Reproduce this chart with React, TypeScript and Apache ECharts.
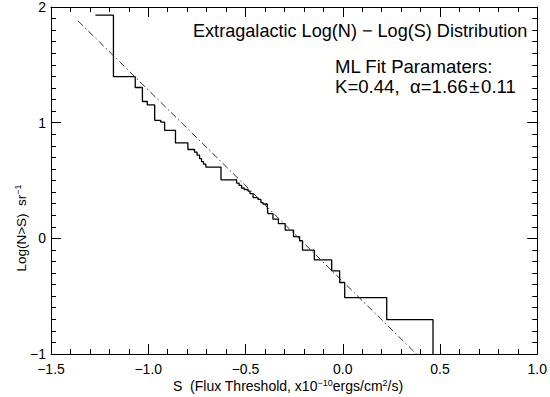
import React, { useEffect, useRef } from "react";
import * as echarts from "echarts";

// Step-function log N - log S (drop positions and levels)
const stepS = [-1.272, -1.179, -1.067, -1.03, -1.005, -0.967, -0.936, -0.916, -0.86, -0.796, -0.762, -0.749, -0.736, -0.726, -0.716, -0.704, -0.626, -0.546, -0.533, -0.52, -0.507, -0.487, -0.477, -0.461, -0.436, -0.421, -0.41, -0.388, -0.385, -0.359, -0.331, -0.296, -0.253, -0.222, -0.207, -0.146, -0.057, -0.016, 0.01, 0.226, 0.464];
const stepLogN = [1.929, 1.398, 1.304, 1.183, 1.153, 1.02, 1.005, 0.934, 0.825, 0.768, 0.745, 0.719, 0.689, 0.663, 0.641, 0.616, 0.506, 0.478, 0.457, 0.435, 0.422, 0.409, 0.386, 0.352, 0.336, 0.309, 0.297, 0.272, 0.214, 0.166, 0.128, 0.071, 0.014, -0.021, -0.102, -0.187, -0.281, -0.382, -0.513, -0.703, -1.0];

// ML fit line endpoints
const fitS = [-1.361, 0.379];
const fitLogN = [1.88, -1.0];

const xTicks = { min: -1.5, max: 1.0, interval: 0.5 };
const yTicks = { min: -1, max: 2, interval: 1 };

const titleText = "Extragalactic Log(N) \u2212 Log(S) Distribution";
const fitLine1 = "ML Fit Paramaters:";
const fitLine2 = "K=0.44,  \u03b1=1.66\u200a\u00b1\u200a0.11";

const FONT = "'Liberation Sans', Arial, Helvetica, sans-serif";

const fmt = (v: number, d: number) => {
  const s = Math.abs(v).toFixed(d);
  return v < 0 ? "\u2212" + s : s;
};

export default function App() {
  const ref = useRef<HTMLDivElement>(null);
  useEffect(() => {
    if (!ref.current) return;
    const chart = echarts.init(ref.current, null, { renderer: "svg" });
    const axisCommon = {
      axisLine: { show: true, onZero: false, lineStyle: { color: "#000", width: 1 } },
      axisTick: { show: true, inside: true, length: 10, lineStyle: { color: "#000", width: 1 } },
      splitLine: { show: false },
    };
    const xCommon = {
      type: "value",
      min: xTicks.min,
      max: xTicks.max,
      interval: xTicks.interval,
      ...axisCommon,
      minorTick: { show: true, splitNumber: 5, length: 5, lineStyle: { color: "#000", width: 1 } },
    };
    const yCommon = {
      type: "value",
      min: yTicks.min,
      max: yTicks.max,
      interval: yTicks.interval,
      ...axisCommon,
      minorTick: { show: true, splitNumber: 10, length: 5, lineStyle: { color: "#000", width: 1 } },
    };
    chart.setOption({
      animation: false,
      backgroundColor: "#fff",
      textStyle: { fontFamily: FONT },
      grid: { left: 51, right: 8, top: 5, bottom: 43 },
      xAxis: [
        {
          ...xCommon,
          position: "bottom",
          axisLabel: {
            show: true,
            color: "#000",
            fontSize: 14,
            fontFamily: FONT,
            margin: 8,
            formatter: (v: number) => fmt(v, 1),
          },
        },
        { ...xCommon, position: "top", axisLabel: { show: false } },
      ],
      yAxis: [
        {
          ...yCommon,
          position: "left",
          axisLabel: {
            show: true,
            color: "#000",
            fontSize: 14,
            fontFamily: FONT,
            margin: 5,
            formatter: (v: number) => fmt(v, 0),
          },
        },
        { ...yCommon, position: "right", axisLabel: { show: false } },
      ],
      series: [
        {
          type: "line",
          step: "end",
          data: stepS.map((s, i) => [s, stepLogN[i]]),
          showSymbol: false,
          lineStyle: { color: "#000", width: 1.3 },
          xAxisIndex: 0,
          yAxisIndex: 0,
        },
        {
          type: "line",
          data: fitS.map((s, i) => [s, fitLogN[i]]),
          showSymbol: false,
          lineStyle: { color: "#333", width: 1, type: [7, 3, 1.5, 3] },
          xAxisIndex: 0,
          yAxisIndex: 0,
        },
      ],
      graphic: [
        {
          type: "text",
          x: 193,
          y: 31,
          style: { text: titleText, font: `18.1px ${FONT}`, fill: "#000", verticalAlign: "middle", align: "left" },
        },
        {
          type: "text",
          x: 335,
          y: 66,
          style: { text: fitLine1, font: `18.6px ${FONT}`, fill: "#000", verticalAlign: "middle", align: "left" },
        },
        {
          type: "text",
          x: 335,
          y: 86,
          style: { text: fitLine2, font: `18.6px ${FONT}`, fill: "#000", verticalAlign: "middle", align: "left" },
        },
        {
          type: "text",
          x: 288,
          y: 386,
          style: {
            text: "S  (Flux Threshold, x10{sup|\u221210}ergs/cm{sup|2}/s)",
            font: `14px ${FONT}`,
            fill: "#000",
            align: "center",
            verticalAlign: "middle",
            rich: {
              sup: { fontSize: 9, fontFamily: FONT, fill: "#000", padding: [0, 0, 7, 0] },
            },
          },
        },
        {
          type: "text",
          x: 21,
          y: 228,
          rotation: Math.PI / 2,
          style: {
            text: "Log(N>S)  sr{sup|\u22121}",
            font: `13.5px ${FONT}`,
            fill: "#000",
            align: "center",
            verticalAlign: "middle",
            rich: {
              sup: { fontSize: 9, fontFamily: FONT, fill: "#000", padding: [0, 0, 7, 0] },
            },
          },
        },
      ],
    });
    return () => chart.dispose();
  }, []);
  return (
    <div
      ref={ref}
      style={{ position: "fixed", left: 0, top: 0, width: 550, height: 397, background: "#fff" }}
    />
  );
}
